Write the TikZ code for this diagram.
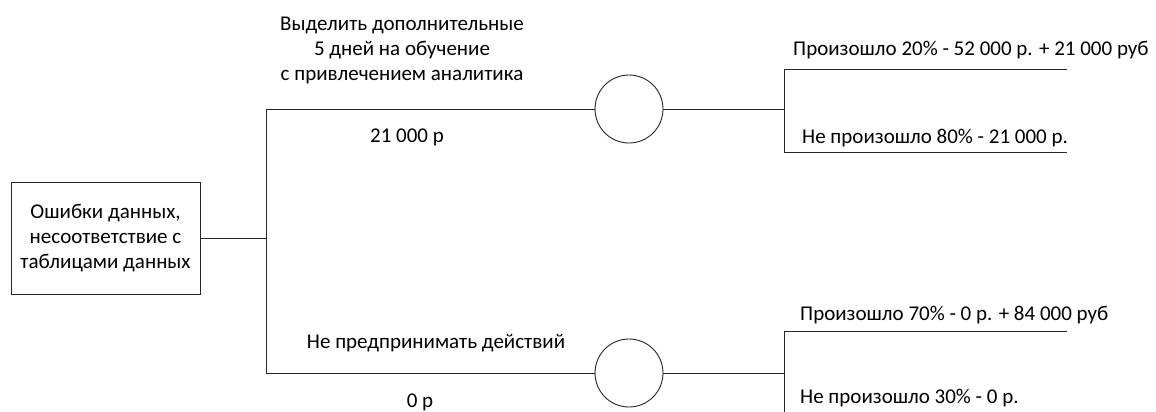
\documentclass[tikz,border=0pt]{standalone}
\usepackage{fontspec}
\setmainfont{Carlito}
\begin{document}
\begin{tikzpicture}[x=1pt,y=-1pt,
  every node/.style={font=\fontsize{21}{25}\selectfont, text=black},
  wire/.style={draw=black!85, line width=0.9pt},
  rootbox/.style={draw=black!85, line width=0.9pt, rectangle, minimum width=189pt, minimum height=112pt, align=center, inner sep=0pt},
  chance/.style={draw=black!85, line width=0.9pt, circle, minimum size=68pt, inner sep=0pt},
  lbl/.style={inner sep=0pt, align=center},
  outcome/.style={inner sep=0pt, anchor=west}]
\useasboundingbox (0,0) rectangle (1156,412);

% decision node
\node[rootbox] (root) at (105.5,238) {Ошибки данных,\\несоответствие с\\таблицами данных};

% trunk of the decision
\coordinate (jn) at (266,238);
\coordinate (jt) at (266,109);
\coordinate (jb) at (266,373);

% chance nodes
\node[chance] (c1) at (629,109) {};
\node[chance] (c2) at (629,373) {};

% outcome forks
\coordinate (f1) at (784,109);
\coordinate (f1t) at (784,69);
\coordinate (f1b) at (784,152);
\coordinate (e1t) at (1067,69);
\coordinate (e1b) at (1067,152);
\coordinate (f2) at (784,373);
\coordinate (f2t) at (784,331);
\coordinate (f2b) at (784,412);
\coordinate (e2t) at (1067,331);

\draw[wire] (root.east |- jn) -- (jn);
\draw[wire] (jt) -- (jb);
\draw[wire] (jt) -- (c1.west);
\draw[wire] (jb) -- (c2.west);
\draw[wire] (c1.east) -- (f1);
\draw[wire] (c2.east) -- (f2);
\draw[wire] (e1t) -- (f1t) -- (f1b) -- (e1b);
\draw[wire] (e2t) -- (f2t) -- (f2b);

% branch labels
\node[lbl] (a1) at (402,50) {Выделить дополнительные\\5 дней на обучение\\с привлечением аналитика};
\node[lbl] (a1c) at (407,137) {21 000 р};
\node[lbl] (a2) at (436,343) {Не предпринимать действий};
\node[lbl] (a2c) at (420,402) {0 р};

% outcome labels
\node[outcome] (o1) at (793,50) {Произошло 20\% - 52 000 р. + 21 000 руб};
\node[outcome] (o2) at (802,138) {Не произошло 80\% - 21 000 р.};
\node[outcome] (o3) at (800,315) {Произошло 70\% - 0 р. + 84 000 руб};
\node[outcome] (o4) at (800,398) {Не произошло 30\% - 0 р.};
\end{tikzpicture}
\end{document}
